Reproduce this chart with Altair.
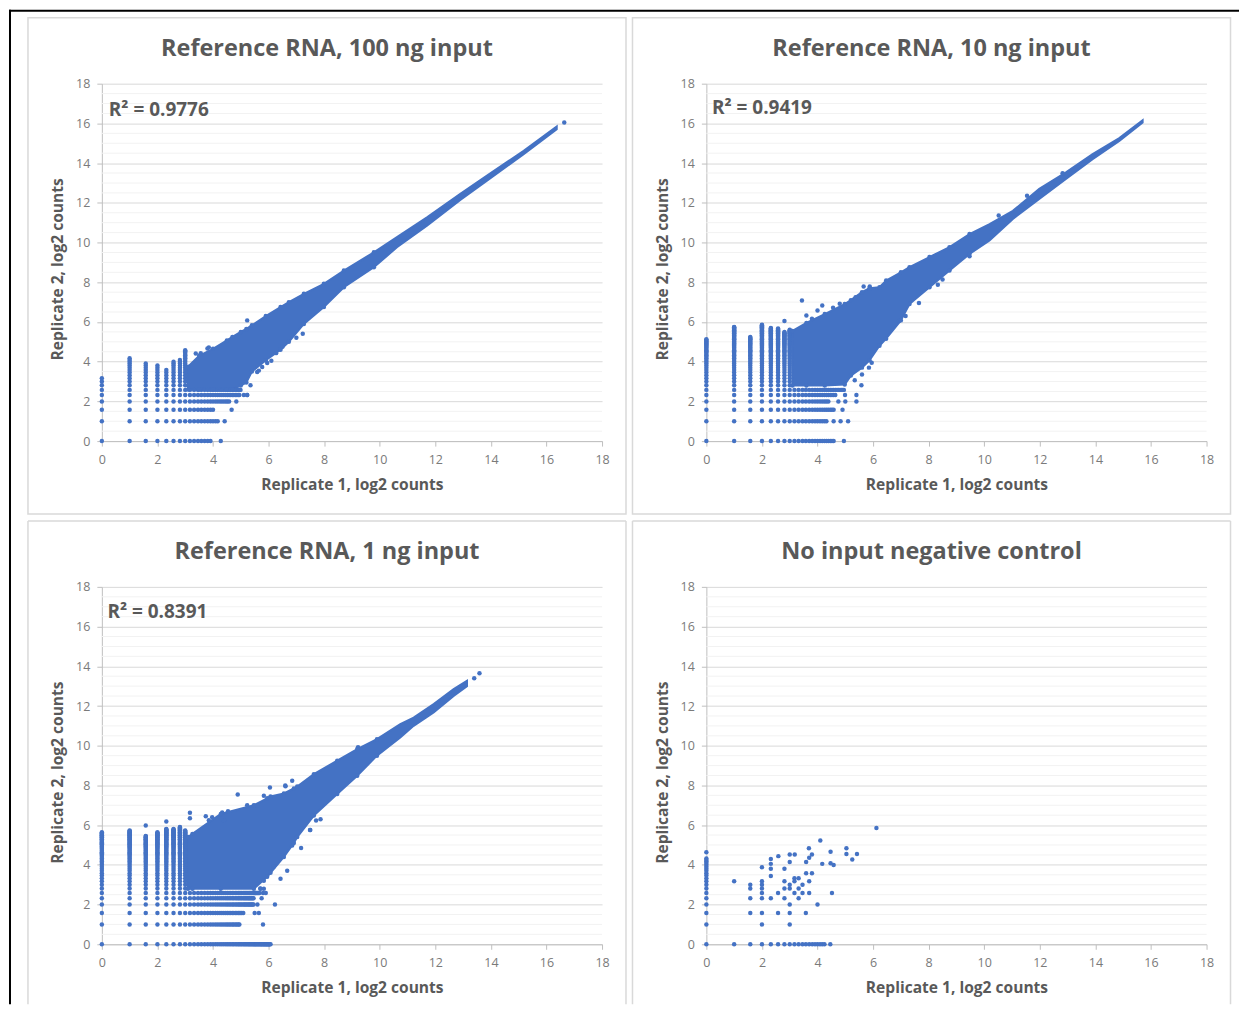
import altair as alt
import pandas as pd

BLUE = "#4472C4"
TXT = "#595959"
FONT = "Open Sans"

levels = [0, 1, 1.58, 2, 2.32, 2.58, 2.81, 3, 3.17, 3.32, 3.46, 3.58, 3.70, 3.81, 3.91, 4,
          4.09, 4.17, 4.25, 4.32, 4.39, 4.46, 4.52, 4.58, 4.64, 4.70, 4.75, 4.81, 4.86, 4.91,
          4.95, 5, 5.04, 5.09, 5.13, 5.17, 5.21, 5.25, 5.29, 5.32, 5.36, 5.39, 5.43, 5.46,
          5.49, 5.52, 5.55, 5.58, 5.61, 5.64, 5.67, 5.70, 5.73, 5.75, 5.78, 5.81, 5.83, 5.86,
          5.88, 5.91, 5.93, 5.95, 5.98, 6.0, 6.02, 6.04, 6.07]
major_y = [0, 2, 4, 6, 8, 10, 12, 14, 16, 18]
minor_y = [0.5, 1, 1.5, 2.5, 3, 3.5, 4.5, 5, 5.5, 6.5, 7, 7.5, 8.5, 9, 9.5, 10.5, 11, 11.5,
           12.5, 13, 13.5, 14.5, 15, 15.5, 16.5, 17, 17.5]
col_x = [0, 1, 1.58, 2, 2.32, 2.58, 2.81, 3]
row_y = [0, 1, 1.58, 2, 2.32, 2.58]

titles = ["Reference RNA, 100 ng input", "Reference RNA, 10 ng input",
          "Reference RNA, 1 ng input", "No input negative control"]
r2_text = ["R² = 0.9776", "R² = 0.9419", "R² = 0.8391"]
r2_x = [0.25, 0.2, 0.2]
r2_y = [16.68, 16.78, 16.75]

# ---- Panel 1
p1_tops = [3.17, 4.17, 3.91, 3.81, 3.58, 4.0, 4.09, 4.58]
p1_row_ends = [3.91, 4.17, 4.0, 4.58, 4.95, 4.95]
p1_env_x = [3.1, 3.5, 4.0, 4.5, 4.7, 5.0, 5.2, 5.4, 5.9, 6.43, 6.73, 7.27, 7.99, 8.71, 9.79, 10.62, 11.7, 12.9, 13.86, 15.18, 16.37]
p1_env_hi = [3.75, 4.3, 4.65, 5.07, 5.25, 5.5, 5.65, 5.83, 6.3, 6.75, 7.0, 7.42, 7.92, 8.59, 9.51, 10.27, 11.27, 12.45, 13.37, 14.62, 15.85]
p1_env_lo = [2.6, 2.6, 2.6, 2.6, 2.6, 2.8, 2.95, 3.5, 4.07, 4.6, 5.0, 5.9, 6.75, 7.75, 8.76, 9.76, 10.85, 12.15, 13.12, 14.45, 15.71]
p1_out_x = [16.64, 5.23, 7.23, 3.80, 3.85, 3.38, 3.56, 5.59, 5.65, 5.95, 5.77, 6.27, 5.35, 5.11, 5.23, 4.99, 4.28, 4.42, 4.67, 4.84, 5.23, 7.0, 6.1, 6.5]
p1_out_y = [16.05, 6.08, 5.41, 4.66, 4.72, 4.41, 4.43, 3.48, 3.55, 3.93, 3.73, 4.43, 2.81, 2.32, 2.32, 2.58, 0, 1, 1.58, 2, 2.32, 5.2, 4.05, 4.75]

# ---- Panel 2
p2_tops = [5.13, 5.75, 5.25, 5.86, 5.70, 5.67, 5.49, 5.61]
p2_row_ends = [4.58, 4.32, 4.58, 4.39, 4.64, 4.95]
p2_env_x = [3.1, 3.6, 4.26, 4.98, 5.2, 5.6, 5.87, 6.23, 6.47, 7.0, 7.31, 8.03, 8.75, 9.47, 10.19, 11.03, 11.98, 12.94, 13.9, 14.86, 15.7]
p2_env_hi = [5.55, 5.95, 6.4, 6.9, 7.1, 7.5, 7.7, 7.75, 8.09, 8.5, 8.76, 9.27, 9.77, 10.43, 10.93, 11.6, 12.7, 13.53, 14.45, 15.26, 16.16]
p2_env_lo = [2.8, 2.8, 2.8, 2.85, 3.3, 3.7, 4.07, 4.8, 5.16, 6.08, 6.9, 7.75, 8.59, 9.43, 10.1, 11.19, 12.2, 13.2, 14.2, 15.12, 16.05]
p2_out_x = [3.44, 2.81, 4.95, 4.58, 4.83, 5.1, 4.9, 4.75, 5.0, 5.4, 4.99, 5.4, 5.34, 5.58, 12.82, 11.54, 10.52, 8.33, 8.5, 7.65, 6.93, 7.17, 9.47, 4.17, 3.6, 4.0, 3.8, 5.66, 5.88, 5.37, 4.8, 4.56, 5.6, 5.85, 5.95]
p2_out_y = [7.08, 6.05, 0, 1, 1, 1, 1.58, 2, 2, 2, 2.32, 2.32, 3.07, 2.81, 13.49, 12.36, 11.36, 7.87, 8.14, 6.95, 6.05, 6.3, 9.31, 6.83, 6.33, 6.58, 6.16, 7.79, 7.79, 7.25, 6.92, 6.72, 3.35, 3.7, 3.95]

# ---- Panel 3
p3_tops = [5.64, 5.73, 5.46, 5.64, 5.81, 5.81, 5.91, 5.73]
p3_row_ends = [6.07, 4.95, 5.09, 5.46, 5.46, 5.67]
p3_env_x = [3.1, 3.26, 4.28, 5.47, 5.95, 6.07, 6.55, 6.91, 7.03, 7.63, 8.47, 9.19, 9.9, 10.74, 11.22, 11.94, 12.66, 13.14]
p3_env_hi = [5.4, 5.56, 6.56, 7.0, 7.35, 7.45, 7.6, 7.85, 7.95, 8.57, 9.25, 9.83, 10.33, 11.09, 11.42, 12.1, 12.85, 13.27]
p3_env_lo = [2.8, 2.8, 2.8, 2.8, 3.4, 3.6, 4.4, 5.1, 5.4, 6.48, 7.57, 8.49, 9.5, 10.42, 11.0, 11.68, 12.51, 13.0]
p3_out_x = [1.58, 2.32, 3.17, 3.17, 3.74, 3.85, 4.89, 6.05, 7.17, 6.67, 6.43, 7.5, 6.85, 6.6, 13.59, 13.4, 9.22, 7.49, 7.87, 7.71, 6.61, 5.8, 5.5, 5.65, 6.23, 5.6, 5.75, 5.8, 5.9, 5.7, 4.33, 4.54, 5.23, 5.59, 5.83, 3.97, 4.4, 6.85, 6.49, 6.18, 5.83, 5.71, 5.83]
p3_out_y = [5.98, 6.18, 6.62, 6.35, 6.45, 6.25, 7.54, 7.9, 4.85, 3.7, 3.3, 5.76, 8.24, 8.0, 13.65, 13.4, 9.93, 5.76, 6.3, 6.23, 7.96, 1, 1.58, 1.58, 2, 2, 2.32, 2.58, 2.58, 2.81, 6.64, 6.7, 7.0, 6.98, 7.48, 6.4, 6.22, 4.98, 4.47, 3.9, 3.2, 2.8, 2.8]

# ---- Panel 4
p4_x = [6.12, 4.10, 3.69, 5.04, 4.47, 3.0, 3.18, 3.80, 5.04, 5.42, 2.59, 3.7, 2.32, 5.25, 3.59, 3.0, 2.32, 4.17, 4.47, 4.58,
        2.0, 2.32, 2.81, 3.59, 3.8, 2.32, 3.17, 3.32, 3.17, 2.81, 3.7, 1.0, 2.0, 1.58, 2.0, 3.0, 3.46, 2.0, 1.58, 2.81, 3.0, 3.32,
        2.0, 2.58, 3.17, 3.46, 3.7, 4.52, 1.58, 2.0, 2.32, 2.81, 3.32, 3.0, 4.0, 1.58, 2.0, 2.58, 3.0, 3.58, 2.0, 3.0,
        1, 1.58, 2, 2.32, 2.58, 2.81, 3, 3.17, 3.32, 3.46, 3.58, 3.70, 3.81, 3.91, 4, 4.09, 4.17, 4.25, 4.46,
        0, 0, 0, 0, 0, 0, 0, 0, 0, 0, 0, 0, 0, 0, 0, 0, 0, 0, 0, 0, 0]
p4_y = [5.86, 5.23, 4.84, 4.84, 4.66, 4.52, 4.52, 4.52, 4.55, 4.55, 4.44, 4.36, 4.3, 4.27, 4.14, 4.14, 4.05, 4.05, 4.08, 3.99,
        3.88, 3.8, 3.8, 3.58, 3.58, 3.44, 3.33, 3.33, 3.17, 3.17, 3.17, 3.17, 3.17, 3, 3, 3, 3, 2.81, 2.81, 2.81, 2.81, 2.81,
        2.58, 2.58, 2.58, 2.58, 2.58, 2.58, 2.32, 2.32, 2.32, 2.32, 2.32, 2, 2, 1.58, 1.58, 1.58, 1.58, 1.58, 1, 1,
        0, 0, 0, 0, 0, 0, 0, 0, 0, 0, 0, 0, 0, 0, 0, 0, 0, 0, 0,
        0, 1, 1.58, 2, 2.32, 2.58, 2.81, 3, 3.17, 3.32, 3.46, 3.58, 3.70, 3.81, 3.91, 4, 4.09, 4.17, 4.25, 4.32, 4.64]


def grid_points(tops, ends):
    xs, ys = [], []
    for cx, top in zip(col_x, tops):
        for lv in levels:
            if lv <= top:
                xs.append(cx)
                ys.append(lv)
    for ry, end in zip(row_y, ends):
        for lv in levels:
            if 3 < lv <= end:
                xs.append(lv)
                ys.append(ry)
    return xs, ys


X = alt.X("x:Q", scale=alt.Scale(domain=[0, 18], nice=False),
          axis=alt.Axis(values=major_y, grid=False, title="Replicate 1, log2 counts",
                        titleFont=FONT, titleFontSize=15.6, titleFontWeight=700, titleColor=TXT, titlePadding=12,
                        labelFont=FONT, labelFontSize=12.5, labelColor="#7a7a7a", labelPadding=7,
                        domainColor="#bfbfbf", tickColor="#bfbfbf", tickSize=5, labelFlush=False))
Y = alt.Y("y:Q", scale=alt.Scale(domain=[0, 18], nice=False),
          axis=alt.Axis(values=major_y, grid=True, gridColor="#d9d9d9", title="Replicate 2, log2 counts",
                        titleFont=FONT, titleFontSize=15.6, titleFontWeight=700, titleColor=TXT, titlePadding=10,
                        titleY=185.5,
                        labelFont=FONT, labelFontSize=12.5, labelColor="#7a7a7a", labelPadding=7,
                        domainColor="#bfbfbf", tickColor="#bfbfbf", tickSize=5))


def panel(title, box_bottom, pts=None, env=None, label=None, frame=False, closed=True):
    one = pd.DataFrame({"a": [0]})
    layers = [alt.Chart(pd.DataFrame({"y": minor_y})).mark_rule(color="#f2f2f2", strokeWidth=1).encode(y=Y)]
    if closed:
        layers.append(alt.Chart(one).mark_rect(fillOpacity=0, stroke="#d9d9d9", strokeWidth=1.5).encode(
            x=alt.value(-74), x2=alt.value(525), y=alt.value(-66), y2=alt.value(box_bottom)))
    else:
        box_rule = alt.Chart(one).mark_rule(color="#d9d9d9", strokeWidth=1.5)
        layers.append(box_rule.encode(x=alt.value(-74), x2=alt.value(525), y=alt.value(-66)))
        layers.append(box_rule.encode(x=alt.value(-74), y=alt.value(-66), y2=alt.value(box_bottom)))
        layers.append(box_rule.encode(x=alt.value(525), y=alt.value(-66), y2=alt.value(box_bottom)))
    layers.append(alt.Chart(pd.DataFrame({"t": [title]})).mark_text(
        align="center", baseline="middle", font=FONT, fontSize=23.5, fontWeight=700, color=TXT).encode(
        x=alt.value(225.5), y=alt.value(-35), text="t:N"))
    xs, ys = list(pts[0]), list(pts[1])
    if env is not None:
        layers.append(alt.Chart(pd.DataFrame({"x": env[0], "y": env[1], "y2": env[2]})).mark_area(
            color=BLUE, stroke=BLUE, strokeWidth=2).encode(x=X, y=Y, y2="y2:Q"))
        for ex, eh, el in zip(env[0], env[1], env[2]):
            if ex < 10:
                xs += [ex, ex]
                ys += [eh, el]
    layers.append(alt.Chart(pd.DataFrame({"x": xs, "y": ys})).mark_circle(
        color=BLUE, size=20, opacity=1).encode(x=X, y=Y))
    if label is not None:
        layers.append(alt.Chart(pd.DataFrame({"x": [label[1]], "y": [label[2]], "t": [label[0]]})).mark_text(
            align="left", baseline="middle", font=FONT, fontSize=19, fontWeight=700, color=TXT).encode(x=X, y=Y, text="t:N"))
    if frame:
        layers.append(alt.Chart(one).mark_rule(color="#000000", strokeWidth=2).encode(
            x=alt.value(-93), x2=alt.value(1139), y=alt.value(-73)))
        layers.append(alt.Chart(one).mark_rule(color="#000000", strokeWidth=2).encode(
            x=alt.value(-92), y=alt.value(-74), y2=alt.value(922)))
    return alt.layer(*layers).properties(width=501, height=358)


def with_out(tops, ends, ox, oy):
    gx, gy = grid_points(tops, ends)
    return gx + ox, gy + oy


p1 = panel(titles[0], 431, with_out(p1_tops, p1_row_ends, p1_out_x, p1_out_y), (p1_env_x, p1_env_hi, p1_env_lo),
           (r2_text[0], r2_x[0], r2_y[0]), frame=True)
p2 = panel(titles[1], 431, with_out(p2_tops, p2_row_ends, p2_out_x, p2_out_y), (p2_env_x, p2_env_hi, p2_env_lo),
           (r2_text[1], r2_x[1], r2_y[1]))
p3 = panel(titles[2], 418, with_out(p3_tops, p3_row_ends, p3_out_x, p3_out_y), (p3_env_x, p3_env_hi, p3_env_lo),
           (r2_text[2], r2_x[2], r2_y[2]), closed=False)
p4 = panel(titles[3], 418, (p4_x, p4_y), closed=False)

chart = alt.concat(p1, p2, p3, p4, columns=2, spacing=alt.RowColnumber(row=146, column=104.5), bounds="flush").properties(
    padding=0, background="white"
).configure_view(stroke=None)

chart.save("out.html", embed_options={"renderer": "svg", "actions": False})
